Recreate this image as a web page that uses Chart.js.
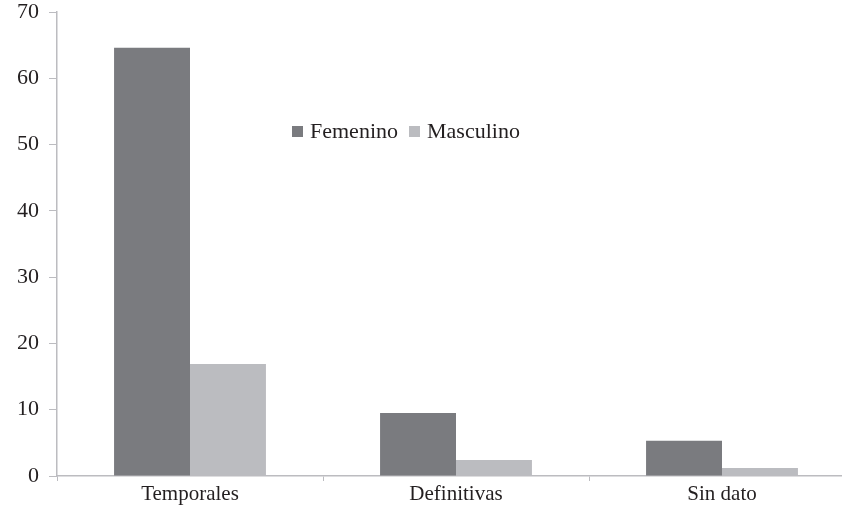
<!DOCTYPE html>
<html>
<head>
<meta charset="utf-8">
<script src="https://cdn.jsdelivr.net/npm/chart.js@4.4.0/dist/chart.umd.min.js"></script>
<style>
  html, body { margin: 0; padding: 0; background: #fff; overflow: hidden; width: 842px; height: 508px; }
  #wrap { position: relative; width: 856px; height: 508px; }
  #legend { position: absolute; left: 292px; top: 119px; font-family: "Liberation Serif", serif; font-size: 22px; color: #231f20; white-space: nowrap; line-height: 24px; }
  #legend span.box { display: inline-block; width: 11px; height: 11px; margin-right: 7px; vertical-align: 1px; }
  #legend span.item { display: inline-block; margin-right: 11px; }
</style>
</head>
<body>
<div id="wrap">
  <canvas id="c" width="856" height="508"></canvas>
  <div id="legend"></div>
</div>
<script>
const categories = ["Temporales", "Definitivas", "Sin dato"];
const seriesNames = ["Femenino", "Masculino"];
const femenino = [64.6, 9.5, 5.3];
const masculino = [16.9, 2.4, 1.2];
const yTicks = [0, 10, 20, 30, 40, 50, 60, 70];

const colors = ["#7a7b7f", "#bbbcc0"];
const font = "'Liberation Serif', serif";

const chart = new Chart(document.getElementById('c'), {
  type: 'bar',
  data: {
    labels: categories,
    datasets: [
      { label: seriesNames[0], data: femenino, backgroundColor: colors[0], borderWidth: 0 },
      { label: seriesNames[1], data: masculino, backgroundColor: colors[1], borderWidth: 0 }
    ]
  },
  options: {
    responsive: false,
    animation: false,
    layout: { padding: { left: 0, right: 1, top: 12, bottom: 0 } },
    plugins: { legend: { display: false }, tooltip: { enabled: false } },
    datasets: { bar: { barPercentage: 1.0, categoryPercentage: 0.571 } },
    scales: {
      x: {
        grid: { display: true, drawOnChartArea: false, drawTicks: true, tickLength: 5, color: '#bcbcc0', offset: true },
        border: { display: true, color: '#bcbcc0', width: 1.5 },
        ticks: { color: '#231f20', font: { family: font, size: 21 }, padding: 1 },
        afterFit: s => { s.height = 32; s.paddingLeft = 0; s.paddingRight = 0; }
      },
      y: {
        min: 0, max: 70,
        afterBuildTicks: s => { s.ticks = yTicks.map(v => ({ value: v })); },
        grid: { display: true, drawOnChartArea: false, drawTicks: true, tickLength: 8, color: '#bcbcc0' },
        border: { display: true, color: '#bcbcc0', width: 1.5 },
        ticks: { color: '#231f20', font: { family: font, size: 22 }, padding: 10 },
        afterFit: s => { s.width = 57; s.paddingTop = 0; s.paddingBottom = 0; }
      }
    }
  }
});

const lg = document.getElementById('legend');
chart.data.datasets.forEach((d, i) => {
  const item = document.createElement('span');
  item.className = 'item';
  const b = document.createElement('span');
  b.className = 'box';
  b.style.background = d.backgroundColor;
  item.appendChild(b);
  item.appendChild(document.createTextNode(d.label));
  lg.appendChild(item);
});
</script>
</body>
</html>
